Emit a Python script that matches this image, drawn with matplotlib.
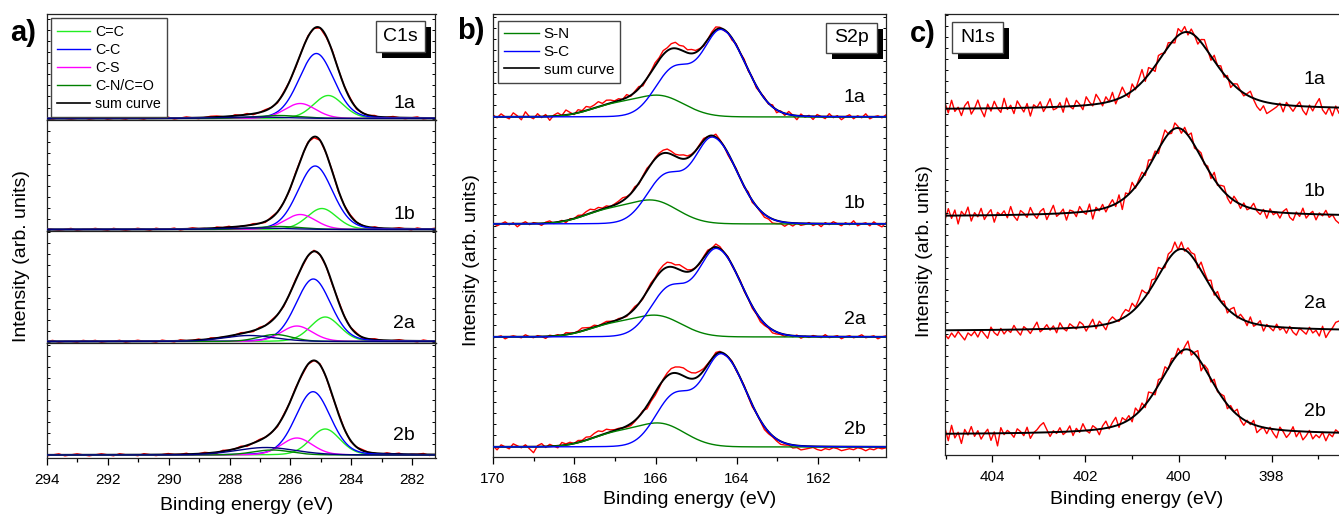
import numpy as np
import matplotlib
matplotlib.use("Agg")
import matplotlib.pyplot as plt
from matplotlib.patches import Rectangle
from matplotlib.lines import Line2D
from matplotlib.ticker import MultipleLocator, NullLocator

plt.rcParams['font.family'] = ['Liberation Sans', 'DejaVu Sans']

W, H = 1339, 516

# ------------------------------------------------------------------ data
sample_labels = ["1a", "1b", "2a", "2b"]

# C1s fitted components: centre (eV), height (arb.), FWHM (eV)
c1s_CeqC_center = [284.76, 284.97, 284.86, 284.86]
c1s_CeqC_height = [23.0, 21.0, 24.5, 26.0]
c1s_CeqC_fwhm = [1.15, 1.15, 1.15, 1.15]
c1s_CC_center = [285.15, 285.19, 285.25, 285.26]
c1s_CC_height = [65.0, 63.5, 62.5, 63.3]
c1s_CC_fwhm = [1.35, 1.35, 1.35, 1.35]
c1s_CS_center = [285.68, 285.68, 285.79, 285.79]
c1s_CS_height = [15.0, 15.0, 15.5, 17.0]
c1s_CS_fwhm = [1.2, 1.2, 1.2, 1.2]
c1s_CN_center = [286.4, 286.4, 286.5, 286.6]
c1s_CN_height = [3.0, 3.0, 7.0, 5.0]
c1s_CN_fwhm = [1.8, 1.8, 1.3, 1.5]
c1s_extra_center = [287.2, 287.2, 287.35, 286.8]
c1s_extra_height = [1.5, 1.5, 6.0, 7.5]
c1s_extra_fwhm = [2.5, 2.5, 2.0, 2.3]

c1s_resid_1a = [0, -1, 1, 0, -1, 0, 1, -1, 0, 1, -1, 0, 0, -1, 1, 0, -1, 1, 0, 0, 1, -1, 0, 1, 0, -1, 0, 1, 1, 0,
                -1, 1, 0, 1, -1, 0, 1, 0, -1, 1, 0, -1, 0, 1, 0, 0, -1, 1, 0, 0, 1, -1, 0, 0, 1, -1, 0, 1, 0, -1,
                0, 1, -1, 0, 0]
c1s_resid_1b = [1, 0, -1, 0, 1, -1, 0, 0, 1, 0, -1, 1, 0, -1, 0, 1, 0, -1, 1, 0, 0, 1, -1, 0, 1, 0, 0, -1, 1, 0,
                1, -1, 0, 0, 1, 0, -1, 1, 0, 0, -1, 1, 0, 1, -1, 0, 0, 1, -1, 0, 1, 0, 0, -1, 1, 0, -1, 0, 1, 0,
                -1, 1, 0, 0, 1]
c1s_resid_2a = [0, 1, -1, 0, 0, -1, 1, 0, 1, -1, 0, 0, 1, -1, 0, 1, 0, 0, -1, 1, 0, -1, 1, 0, 0, 1, -1, 1, 0, 0,
                -1, 0, 1, 0, -1, 1, 0, 1, 0, -1, 0, 1, -1, 0, 1, 0, 0, -1, 1, 0, 0, 1, -1, 0, 1, 0, -1, 0, 1, 0,
                0, -1, 1, 0, -1]
c1s_resid_2b = [-1, 0, 1, -1, 0, 1, 0, -1, 0, 1, 0, -1, 1, 0, 0, -1, 1, 0, -1, 0, 1, 0, 0, 1, -1, 0, 1, 0, -1, 1,
                0, 0, 1, -1, 0, 1, 0, 0, -1, 1, 0, 1, -1, 0, 0, 1, 0, -1, 1, 0, -1, 0, 1, 0, 0, -1, 1, 0, 1, -1,
                0, 0, 1, -1, 0]
c1s_resid = [c1s_resid_1a, c1s_resid_1b, c1s_resid_2a, c1s_resid_2b]

# S2p fitted doublets: 2p3/2 centre, height; 2p1/2 at +1.18 eV with 0.55 x height
s2p_SC_center = [164.37, 164.58, 164.48, 164.36]
s2p_SC_height = [85.2, 84.6, 86.2, 90.8]
s2p_SC_fwhm_high = 1.1     # high binding-energy side
s2p_SC_fwhm_low = 1.4      # low binding-energy side of the 2p3/2 line
s2p_SN_center = [165.87, 166.03, 165.93, 165.85]
s2p_SN_height = [20.0, 22.0, 20.0, 22.0]
s2p_SN_fwhm = 1.4
s2p_split = 1.18
s2p_ratio = 0.55
s2p_offsets = [340, 233, 120, 10]

# S2p measured minus fit, 170.0 -> 160.3 eV
s2p_resid_1a = [2, -1, 3, 0, -2, 4, 1, -3, 5, 0, -2, 3, -1, 2, -4, 1, 3, 0, 5, 2, -1,
                3, 1, 4, 2, 3, 5, 2, 4, 3, 1,
                2, 0, 3, -1, 1, 2, -2, 0, 1, 3,
                2, 4, 3, 5, 6, 4, 5, 3, 4, 2,
                1, -1, 0, 2, 3, 1, -1, 0, -2, 1,
                0, 2, -1, 1, -2, 0, 1, -1, 2, -3,
                1, -2, 3, 0, -4, 2, -1, 1, -3, 2, 0, -2, 3, -1, 1, -3, 0, 2, -2, 1, -1, 3, -2, 0, 1, -1, 2]
s2p_resid_1b = [1, -2, 0, 2, -1, 1, -3, 0, 2, -1, 1, 0, -2, 1, 2, -1, 0, 1, -2, 1, 0,
                2, 1, 3, 4, 2, 3, 1, 2, 0, 1,
                2, 3, 1, 0, 2, -1, 1, 2, 0, 1,
                2, 3, 4, 3, 2, 3, 4, 2, 1, 0,
                1, 2, 0, -1, 3, 1, 0, -2, -1, 1,
                0, -1, 2, -2, 0, -1, -3, -2, -4, -3,
                -2, -4, -1, -3, 0, -2, -1, 1, -2, 0, -3, 1, -1, 2, 0, -2, 1, -1, 3, -2, 0, 1, -2, 2, -1, -3, 1]
s2p_resid_2a = [-1, 0, 1, -2, 0, 1, 0, -1, 2, 0, -1, 1, 0, -2, 1, 0, 1, -1, 2, 1, 0,
                1, 3, 2, 1, 2, 0, 1, 2, 1, 0,
                1, 0, -1, 1, 2, 0, -1, 1, 2, 1,
                3, 4, 5, 4, 3, 5, 4, 2, 1, 0,
                -1, 1, 2, 0, 3, 2, 0, 1, -1, 0,
                1, -1, 0, -2, -1, -3, -2, -1, -3, -2,
                -1, -2, 0, -1, 1, -2, 0, -1, 1, 0, -1, 2, -1, 0, 1, -2, 0, 1, -1, 0, 2, -1, 0, 1, -2, 0, 1]
s2p_resid_2b = [1, -3, 2, 0, -2, 3, 1, -1, 2, -2, -6, 1, 3, -1, 2, 0, -2, 3, 1, 2, 0,
                2, 1, 3, 2, 4, 5, 3, 4, 2, 1,
                1, 0, -1, -2, -1, 0, 1, -3, -2, -3,
                -2, 1, 3, 5, 6, 7, 8, 7, 6, 5,
                4, 2, 1, 0, 2, 1, -1, 0, 1, -1,
                0, 1, -1, -2, 0, -1, -3, -2, -1, -2,
                -3, -2, -1, -3, -2, -4, -3, -2, -1, -3, -4, -2, -3, -1, -2, -4, -3, -2, -3, -1, -2, -4, -2, -3, -1, -2, -1]
s2p_resid = [s2p_resid_1a, s2p_resid_1b, s2p_resid_2a, s2p_resid_2b]

# N1s fitted peak
n1s_center = [399.83, 400.02, 399.94, 399.83]
n1s_height = [77.5, 88.5, 82.0, 85.2]
n1s_fwhm = [1.5, 1.38, 1.35, 1.38]
n1s_offsets = [345.5, 238.5, 124.0, 20.5]
n1s_resid_unit = 1.4

# N1s measured minus fit, 405.0 -> 396.55 eV
n1s_resid_1a = [4, -3, 6, -2, 1, -5, 2, 5, -4, 0, 6, -1, -6, 3, -2, 5, 0, -3, 7, -1,
                2, -4, 5, 1, -3, 3, -6, 2, 0, 4, -3, 1, 6, -2, -1, 3, -4, 6, 0, -2,
                4, 1, -3, 6, 2, -1, 7, 3, -2, 4, 0, 6, -3, 2, 7, 1, -3, 5, -1, 4,
                9, -2, 5, 1, -4, 4, 2, -1, 3, 0, -3, 5, 1, 4, -2, 3, 0, -4, 2, 5,
                1, -3, 4, 0, 3, -2, 2, -4, 1, 3, 0, -2, 1, 4, -1, -5, -7, -3, -8, -6,
                -4, -2, 1, -5, 2, -1, -4, 0, 3, -3, -6, 1, -3, 2, 6, -2, -5, 0, -6, 1, -4]
n1s_resid_1b = [-3, 5, -2, 4, -6, 3, 0, 6, -4, 2, -1, 5, -3, 1, 4, -5, 2, 0, 3, -2,
                6, -1, -4, 3, 1, -2, 5, 0, -3, 2, 4, -4, 1, 6, -2, 0, 3, -5, 2, 1,
                -3, 4, 0, -2, 5, -6, 2, -1, 3, -3, 1, 4, -2, 5, -7, 3, 0, 6, -1, 2,
                4, -2, 5, 1, 3, -3, 2, 6, 0, -2, 4, 1, -3, 3, 0, 5, -2, 1, 3, -1,
                2, -3, 5, -1, 2, 4, -2, -4, 3, 1, -3, 2, -2, 0, 4, -1, -3, 1, -5, 2,
                -2, 0, -4, 1, 3, -3, -5, 1, -2, 4, -3, 0, 2, -4, 1, -1, 3, -2, 0, -4, -6]
n1s_resid_2a = [-3, -6, -2, -5, -1, -4, -7, -2, -4, -1, -5, 0, -3, -6, 2, -2, -4, 1, -3, 0,
                -2, 3, -1, -4, 2, 0, -3, 1, 5, -2, 0, 3, -1, 2, -3, 4, 0, -2, 3, 1,
                -1, 4, 2, -3, 1, 5, -2, 3, 0, -4, 2, 4, 1, -1, 3, 5, 2, 6, 1, 4,
                8, 3, -1, 5, 2, 6, 1, -2, 4, 3, 7, 0, 5, -1, 3, 2, 4, -2, 6, 3,
                1, 5, -2, 4, 0, 3, -3, 2, 5, -1, 3, 1, -3, 4, -2, 0, 3, -4, 1, -1,
                -3, 2, -2, 0, -4, 1, -3, -5, 0, -2, -4, 1, -3, -1, -5, 2, -6, -2, 1, 5, 6]
n1s_resid_2b = [4, -5, 6, -3, 1, -7, 3, -1, 5, -2, 2, -4, 0, 3, -5, 1, -9, 4, -1, 2,
                0, -3, 3, 1, -2, 4, -4, 0, 2, 5, 7, 2, -3, 1, -1, 3, -2, 0, 4, -3,
                2, -1, 5, 0, -2, 3, 1, -4, 2, 5, -1, 3, 6, -2, 4, 1, 3, -3, 5, 0,
                4, -2, 6, 2, -3, 4, 1, 5, -1, 3, 0, 4, -2, 2, 6, -3, 1, 5, -6, 2,
                3, -2, 4, -1, 1, 3, -3, 2, 0, 4, -2, -4, 1, -1, 3, -5, -2, 0, -4, 1,
                -3, -6, 2, -1, -5, -2, 3, -4, 0, -6, -3, 1, -5, -2, -4, 0, -6, -1, -3, 2, 0]
n1s_resid = [n1s_resid_1a, n1s_resid_1b, n1s_resid_2a, n1s_resid_2b]

# axis ranges (eV)
c1s_xlim = (294.0, 281.24)
s2p_xlim = (170.0, 160.33)
n1s_xlim = (405.02, 396.55)

# ------------------------------------------------------------------ helpers
def pv(x, c, h, w, m):
    u = (x - c) / w
    return h * ((1 - m) * np.exp(-4 * np.log(2) * u ** 2) + m / (1 + 4 * u ** 2))


def apv(x, c, h, w_high, w_low, m):
    w = np.where(x >= c, w_high, w_low)
    return pv(x, c, h, w, m)


def s_c(x, i):
    c, h = s2p_SC_center[i], s2p_SC_height[i]
    return (apv(x, c, h, s2p_SC_fwhm_high, s2p_SC_fwhm_low, 0.05)
            + pv(x, c + s2p_split, s2p_ratio * h, s2p_SC_fwhm_high, 0.05))


def s_n(x, i):
    c, h = s2p_SN_center[i], s2p_SN_height[i]
    return (pv(x, c, h, s2p_SN_fwhm, 0.05)
            + pv(x, c + s2p_split, s2p_ratio * h, s2p_SN_fwhm, 0.05))


def rect(l, t, r, b):
    return [l / W, 1 - b / H, (r - l) / W, (b - t) / H]


def fxy(px, py):
    return px / W, 1 - py / H


RED = '#ff0000'
LIME = '#22ee22'
BLUE = '#0000ff'
MAG = '#ff00ff'
DGREEN = '#008000'
NAVY = '#000080'

fig = plt.figure(figsize=(W / 100, H / 100), dpi=100)


def style(ax, labels=True, right=True):
    ax.xaxis.set_major_locator(MultipleLocator(2))
    ax.xaxis.set_minor_locator(MultipleLocator(1))
    ax.yaxis.set_major_locator(NullLocator())
    ax.yaxis.set_minor_locator(MultipleLocator(11))
    ax.tick_params(axis='x', which='major', direction='out', length=5, width=0.9,
                   labelsize=11, pad=6, bottom=labels, labelbottom=labels, top=False)
    ax.tick_params(axis='x', which='minor', direction='out', length=3, width=0.9,
                   bottom=labels, top=False)
    ax.tick_params(axis='y', which='minor', direction='in', length=2, width=0.7,
                   left=True, right=right)
    for s in ax.spines.values():
        s.set_linewidth(0.9)
        s.set_color('#222222')


# ------------------------------------------------------------------ panel a
bounds = [14, 120, 230.7, 342.7, 457.5]
base_px = [118.5, 229.5, 341.5, 455.0]
xa = np.linspace(c1s_xlim[0], c1s_xlim[1], 1200)
axes_a = []
for i in range(4):
    ax = fig.add_axes(rect(46.7, bounds[i], 435.5, bounds[i + 1]))
    axes_a.append(ax)
    ax.set_xlim(*c1s_xlim)
    ax.set_ylim(-(bounds[i + 1] - base_px[i]), base_px[i] - bounds[i])
    comps = [
        (c1s_CeqC_center[i], c1s_CeqC_height[i], c1s_CeqC_fwhm[i], LIME),
        (c1s_CC_center[i], c1s_CC_height[i], c1s_CC_fwhm[i], BLUE),
        (c1s_CS_center[i], c1s_CS_height[i], c1s_CS_fwhm[i], MAG),
        (c1s_CN_center[i], c1s_CN_height[i], c1s_CN_fwhm[i], DGREEN),
        (c1s_extra_center[i], c1s_extra_height[i], c1s_extra_fwhm[i], NAVY),
    ]
    total = lambda x: sum(pv(x, c, h, w, 0.15) for c, h, w, _ in comps)
    res = np.array(c1s_resid[i], dtype=float)
    xr = np.linspace(c1s_xlim[0], c1s_xlim[1], len(res))
    ax.plot(xr, total(xr) + res, color=RED, lw=1.0, zorder=1)
    ax.plot(xa, total(xa), color='black', lw=1.4, zorder=2)
    for c, h, w, col in comps:
        ax.plot(xa, pv(xa, c, h, w, 0.15), color=col, lw=1.0, zorder=3)
    style(ax, labels=(i == 3))

handles_a = [Line2D([], [], color=LIME, lw=1.0), Line2D([], [], color=BLUE, lw=1.0),
             Line2D([], [], color=MAG, lw=1.0), Line2D([], [], color=DGREEN, lw=1.0),
             Line2D([], [], color='black', lw=1.2)]
leg = axes_a[0].legend(handles_a, ['C=C', 'C-C', 'C-S', 'C-N/C=O', 'sum curve'],
                       loc='upper left', bbox_to_anchor=((50.7 - 46.7) / 388.8, 1 - (18.3 - 14) / 106),
                       borderaxespad=0, fontsize=10.3, labelspacing=0.28, handlelength=2.3,
                       handletextpad=0.35, borderpad=0.45, fancybox=False, framealpha=1)
leg.get_frame().set_edgecolor('#444444')
leg.get_frame().set_linewidth(1.0)

# ------------------------------------------------------------------ panel b
axb = fig.add_axes(rect(493, 14, 886, 457))
axb.set_xlim(*s2p_xlim)
axb.set_ylim(0, 443)
xb = np.linspace(s2p_xlim[0], s2p_xlim[1], 1400)
for i in range(4):
    off = s2p_offsets[i]
    res = np.array(s2p_resid[i], dtype=float)
    xr = np.linspace(s2p_xlim[0], s2p_xlim[1], len(res))
    axb.plot(xr, off + s_c(xr, i) + s_n(xr, i) + res, color=RED, lw=1.0, zorder=1)
    axb.plot(xb, off + s_c(xb, i) + s_n(xb, i), color='black', lw=1.4, zorder=2)
    axb.plot(xb, off + s_n(xb, i), color=DGREEN, lw=1.0, zorder=3)
    axb.plot(xb, off + s_c(xb, i), color=BLUE, lw=1.0, zorder=3)
style(axb)
handles_b = [Line2D([], [], color=DGREEN, lw=1.0), Line2D([], [], color=BLUE, lw=1.0),
             Line2D([], [], color='black', lw=1.2)]
legb = axb.legend(handles_b, ['S-N', 'S-C', 'sum curve'], loc='upper left',
                  bbox_to_anchor=((498 - 493) / 393, 1 - (21 - 14) / 443),
                  borderaxespad=0, fontsize=11, labelspacing=0.25, handlelength=2.3,
                  handletextpad=0.3, borderpad=0.4, fancybox=False, framealpha=1)
legb.get_frame().set_edgecolor('#444444')
legb.get_frame().set_linewidth(1.0)

# ------------------------------------------------------------------ panel c
axc = fig.add_axes(rect(945, 14, 1339, 455))
axc.set_xlim(*n1s_xlim)
axc.set_ylim(0, 441)
xc = np.linspace(n1s_xlim[0], n1s_xlim[1], 1200)
for i in range(4):
    off = n1s_offsets[i]
    res = np.array(n1s_resid[i], dtype=float) * n1s_resid_unit
    xr = np.linspace(n1s_xlim[0], n1s_xlim[1], len(res))
    axc.plot(xr, off + pv(xr, n1s_center[i], n1s_height[i], n1s_fwhm[i], 0.5) + res,
             color=RED, lw=1.0, zorder=1)
    axc.plot(xc, off + pv(xc, n1s_center[i], n1s_height[i], n1s_fwhm[i], 0.5),
             color='black', lw=1.4, zorder=2)
style(axc, right=False)
axc.spines['right'].set_visible(False)

# ------------------------------------------------------------------ annotations
for (l, t, r, b), txt in [((376, 21, 425, 52), 'C1s'), ((826, 23, 877, 53), 'S2p'),
                          ((952, 22, 1003, 53), 'N1s')]:
    fig.add_artist(Rectangle(fxy(l + 5.5, b + 6), (r - l) / W, (b - t) / H,
                             transform=fig.transFigure, facecolor='black', edgecolor='none', zorder=10))
    fig.add_artist(Rectangle(fxy(l, b), (r - l) / W, (b - t) / H, transform=fig.transFigure,
                             facecolor='white', edgecolor='#444444', lw=1.0, zorder=11))
    fig.text(*fxy((l + r) / 2, (t + b) / 2), txt, fontsize=14, ha='center', va='center', zorder=12)

label_pos = {
    'a': (404, [104, 214, 324, 435]),
    'b': (854.5, [98, 204, 320, 429]),
    'c': (1314.5, [80, 191, 303, 412]),
}
for key, (xpx, ys) in label_pos.items():
    for lab, ypx in zip(sample_labels, ys):
        fig.text(*fxy(xpx, ypx), lab, fontsize=14, ha='center', va='center')

for txt, (xpx, ypx) in [('a)', (23.5, 33)), ('b)', (471, 31)), ('c)', (922.5, 34))]:
    fig.text(*fxy(xpx, ypx), txt, fontsize=21, fontweight='bold', ha='center', va='center')

for xpx, ypx in [(22, 256), (471, 260), (924, 251)]:
    fig.text(*fxy(xpx, ypx), 'Intensity (arb. units)', rotation=90, fontsize=14,
             ha='center', va='center')
for xpx, ypx in [(247, 506), (690, 499), (1137, 500)]:
    fig.text(*fxy(xpx, ypx), 'Binding energy (eV)', fontsize=14, ha='center', va='center')

fig.savefig('out.png', dpi=100)
